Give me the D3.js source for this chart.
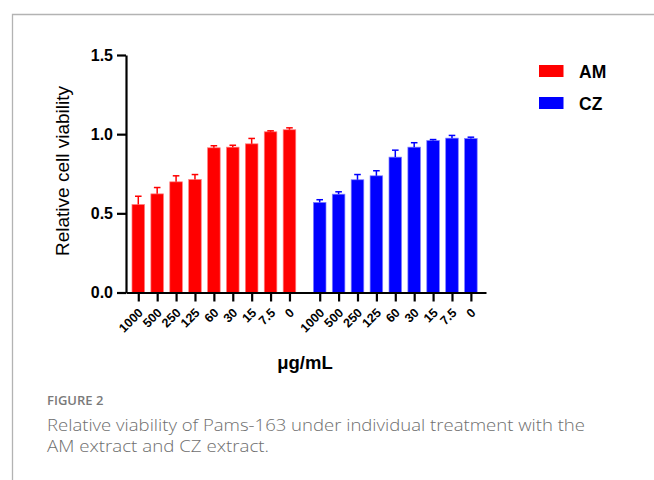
<!DOCTYPE html>
<html>
<head>
<meta charset="utf-8">
<script src="https://cdn.jsdelivr.net/npm/d3@7"></script>
<style>
  body { margin: 0; background: #fff; }
  svg text { font-family: "Liberation Sans", Arial, sans-serif; }
</style>
</head>
<body>
<div id="chart"></div>
<script>
var doses = ["1000", "500", "250", "125", "60", "30", "15", "7.5", "0"];
var groups = ["AM", "CZ"];
var colors = ["#ff0000", "#0000ff"];
var amMean = [0.556, 0.623, 0.699, 0.714, 0.914, 0.918, 0.939, 1.015, 1.028];
var amErr  = [0.052, 0.040, 0.038, 0.031, 0.013, 0.012, 0.034, 0.006, 0.012];
var czMean = [0.569, 0.621, 0.712, 0.737, 0.855, 0.918, 0.960, 0.975, 0.973];
var czErr  = [0.017, 0.015, 0.033, 0.032, 0.044, 0.028, 0.006, 0.017, 0.008];
var yTicks = [0, 0.5, 1.0, 1.5];

var svg = d3.select("#chart")
  .append("svg")
    .attr("width", 654)
    .attr("height", 480);

// figure frame
svg.append("path")
  .attr("d", "M654,14.5 H12.5 V480")
  .attr("fill", "none")
  .attr("stroke", "#b3b3b3")
  .attr("stroke-width", 1.3);

// build rows from the arrays
var rows = [];
doses.forEach(function (d, i) {
  rows.push({g: 0, dose: d, pos: i, mean: amMean[i], err: amErr[i]});
});
doses.forEach(function (d, i) {
  rows.push({g: 1, dose: d, pos: i + 9.6, mean: czMean[i], err: czErr[i]});
});

var x = d3.scaleLinear()
  .domain([-0.65, 18.4])
  .range([126, 486]);

var y = d3.scaleLinear()
  .domain([0, 1.5])
  .range([292.5, 55]);

var barW = 12.6;

// bars
svg.append("g")
  .selectAll("rect")
  .data(rows)
  .enter()
  .append("rect")
    .attr("x", function (d) { return x(d.pos) - barW / 2; })
    .attr("y", function (d) { return y(d.mean); })
    .attr("width", barW)
    .attr("height", function (d) { return y(0) - y(d.mean); })
    .attr("fill", function (d) { return colors[d.g]; })
    .attr("stroke", function (d) { return d.g ? "#8080ff" : "#ff8080"; })
    .attr("stroke-width", 0.7);

// error bars (upper only)
var eb = svg.append("g")
  .selectAll("g")
  .data(rows)
  .enter()
  .append("g")
    .attr("stroke", function (d) { return colors[d.g]; })
    .attr("stroke-width", 1.5);
eb.append("line")
  .attr("x1", function (d) { return x(d.pos); })
  .attr("x2", function (d) { return x(d.pos); })
  .attr("y1", function (d) { return y(d.mean); })
  .attr("y2", function (d) { return y(d.mean + d.err); });
eb.append("line")
  .attr("x1", function (d) { return x(d.pos) - 3.3; })
  .attr("x2", function (d) { return x(d.pos) + 3.3; })
  .attr("y1", function (d) { return y(d.mean + d.err); })
  .attr("y2", function (d) { return y(d.mean + d.err); });

// y axis
var yAxis = svg.append("g")
  .attr("transform", "translate(126,0)")
  .call(d3.axisLeft(y).tickValues(yTicks).tickSize(9).tickSizeOuter(0)
    .tickPadding(4).tickFormat(d3.format(".1f")));
yAxis.selectAll("path, line").attr("stroke", "#000").attr("stroke-width", 2.2);
yAxis.selectAll("text")
  .attr("font-size", 16)
  .attr("font-weight", "bold")
  .attr("fill", "#000")
  .style("font-family", "'Liberation Sans', Arial, sans-serif");

// x axis
var xAxis = svg.append("g")
  .attr("transform", "translate(0," + y(0) + ")")
  .call(d3.axisBottom(x).tickValues(rows.map(function (d) { return d.pos; }))
    .tickSize(9).tickSizeOuter(0)
    .tickFormat(function (p, i) { return rows[i].dose; }));
xAxis.select(".domain").attr("stroke", "#000").attr("stroke-width", 2.2);
xAxis.selectAll("line").attr("stroke", "#000").attr("stroke-width", 2.2);
xAxis.selectAll("text")
  .attr("font-size", 12.5)
  .attr("font-weight", "bold")
  .attr("fill", "#000")
  .style("font-family", "'Liberation Sans', Arial, sans-serif")
  .attr("text-anchor", "end")
  .attr("dy", null)
  .attr("y", 0)
  .attr("transform", "translate(5,21) rotate(-45)");

// axis titles
svg.append("text")
  .attr("transform", "translate(69,171) rotate(-90)")
  .attr("text-anchor", "middle")
  .attr("font-size", 19)
  .text("Relative cell viability");

svg.append("text")
  .attr("x", 305)
  .attr("y", 369)
  .attr("text-anchor", "middle")
  .attr("font-size", 18.5)
  .attr("font-weight", "bold")
  .text("μg/mL");

// legend
var leg = svg.append("g")
  .selectAll("g")
  .data(groups)
  .enter()
  .append("g")
    .attr("transform", function (d, i) { return "translate(539," + (65 + i * 32) + ")"; });
leg.append("rect")
  .attr("width", 24.5)
  .attr("height", 12)
  .attr("fill", function (d, i) { return colors[i]; });
leg.append("text")
  .attr("x", 40)
  .attr("y", 12.7)
  .attr("font-size", 17.5)
  .attr("font-weight", "bold")
  .text(function (d) { return d; });

// caption
svg.append("text")
  .attr("x", 47)
  .attr("y", 405)
  .attr("font-size", 13)
  .attr("fill", "#7a7a7a")
  .style("font-family", "'Open Sans', sans-serif")
  .style("font-weight", 600)
  .text("FIGURE 2");
svg.append("text")
  .attr("x", 47)
  .attr("y", 431)
  .attr("font-size", 16.5)
  .attr("fill", "#6e6e6e")
  .attr("textLength", 538)
  .attr("lengthAdjust", "spacingAndGlyphs")
  .style("font-family", "'Open Sans', sans-serif")
  .style("font-weight", 300)
  .text("Relative viability of Pams-163 under individual treatment with the");
svg.append("text")
  .attr("x", 47)
  .attr("y", 452)
  .attr("font-size", 16.5)
  .attr("fill", "#6e6e6e")
  .attr("textLength", 222)
  .attr("lengthAdjust", "spacingAndGlyphs")
  .style("font-family", "'Open Sans', sans-serif")
  .style("font-weight", 300)
  .text("AM extract and CZ extract.");
</script>
</body>
</html>
